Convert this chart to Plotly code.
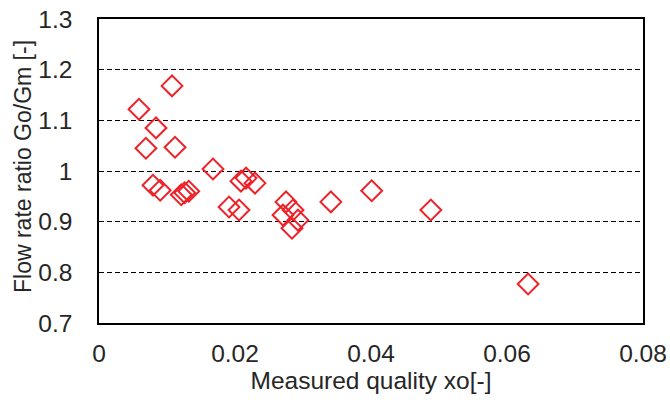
import plotly.graph_objects as go

quality_x = [0.00588, 0.01074, 0.0069, 0.00838, 0.01118, 0.00794, 0.0090,
             0.0121, 0.0126, 0.0132, 0.01676, 0.02088, 0.02162, 0.02294,
             0.01912, 0.02059, 0.0275, 0.02706, 0.02853, 0.02926, 0.02838,
             0.0341, 0.0401, 0.0488, 0.0631]
ratio_y = [1.122, 1.168, 1.045, 1.085, 1.047, 0.972, 0.962,
           0.953, 0.957, 0.960, 1.004, 0.980, 0.986, 0.976,
           0.929, 0.923, 0.939, 0.913, 0.923, 0.903, 0.887,
           0.939, 0.961, 0.923, 0.777]

x_ticks = [0, 0.02, 0.04, 0.06, 0.08]
x_tick_text = ["0", "0.02", "0.04", "0.06", "0.08"]
y_ticks = [0.7, 0.8, 0.9, 1.0, 1.1, 1.2, 1.3]
y_tick_text = ["0.7", "0.8", "0.9", "1", "1.1", "1.2", "1.3"]
x_title = "Measured quality xo[-]"
y_title = "Flow rate ratio Go/Gm [-]"

font = "Liberation Sans, Arial, sans-serif"

fig = go.Figure()
fig.add_trace(go.Scatter(
    x=quality_x, y=ratio_y, mode="markers",
    marker=dict(symbol="diamond-open", size=16, color="#EE2229",
                line=dict(width=2, color="#EE2229")),
    showlegend=False, cliponaxis=False,
))

fig.update_layout(
    width=670, height=402,
    margin=dict(l=99, r=27, t=19, b=79, autoexpand=False),
    paper_bgcolor="white", plot_bgcolor="white",
    font=dict(family=font, size=24, color="#262626"),
    xaxis=dict(
        range=[0, 0.08], tickvals=x_ticks, ticktext=x_tick_text,
        showgrid=False, zeroline=False, automargin=False,
        showline=True, linecolor="black", linewidth=1.5, mirror=True,
        ticks="", ticklabelstandoff=8, tickfont=dict(size=24.5),
        title=dict(text=x_title, font=dict(size=24.5, color="#262626"), standoff=6),
    ),
    yaxis=dict(
        range=[0.7, 1.3], tickvals=y_ticks, ticktext=y_tick_text,
        showgrid=True, gridcolor="black", gridwidth=1.2, griddash="5px,3px",
        zeroline=False, automargin=False,
        showline=True, linecolor="black", linewidth=1.5, mirror=True,
        ticks="", ticklabelstandoff=20, tickfont=dict(size=24.5),
    ),
    annotations=[dict(
        text=y_title, xref="paper", yref="paper", x=0, y=0.5,
        xanchor="center", yanchor="middle", xshift=-76, yshift=4,
        textangle=-90, showarrow=False,
        font=dict(family=font, size=23, color="#262626"),
    )],
)

fig.write_html("out.html")
